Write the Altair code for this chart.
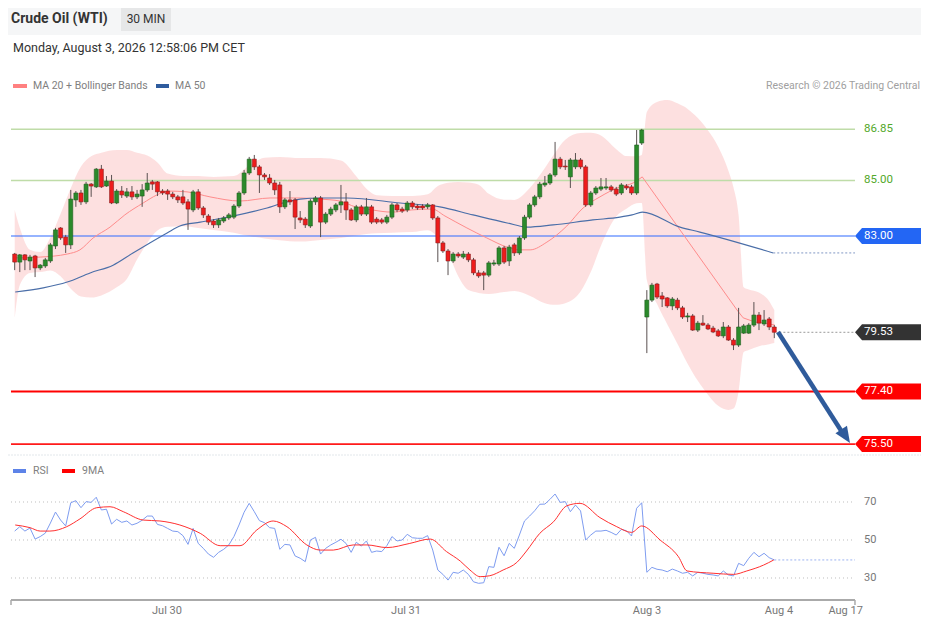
import altair as alt
import pandas as pd

# ---------------- data ----------------
opens = [82.35, 82.06, 82.32, 82.10, 82.28, 81.85, 81.92, 82.10, 82.64, 83.29,
         82.96, 82.68, 84.30, 84.55, 84.23, 84.87, 84.77, 85.41, 84.80, 84.98,
         84.19, 84.62, 84.44, 84.59, 84.41, 84.44, 84.66, 84.95, 84.95, 84.62,
         84.62, 84.51, 84.41, 84.41, 84.23, 83.94, 84.59, 84.01, 83.72, 83.54,
         83.40, 83.54, 83.65, 83.68, 84.08, 84.55, 85.27, 85.77, 85.49, 85.20,
         85.09, 84.91, 84.84, 84.05, 84.30, 84.30, 83.65, 83.61, 83.36, 84.23,
         84.37, 83.50, 83.79, 83.94, 84.12, 84.23, 83.94, 83.58, 84.05, 83.79,
         84.05, 83.61, 83.58, 83.50, 83.68, 84.12, 83.97, 83.94, 84.19, 84.08,
         84.08, 84.05, 84.12, 83.65, 82.75, 82.46, 82.10, 82.35, 82.24, 82.35,
         82.14, 81.67, 81.67, 81.59, 81.99, 81.99, 82.57, 82.10, 82.68, 82.39,
         82.93, 83.68, 84.12, 84.41, 84.84, 84.91, 85.20, 85.77, 85.52, 85.13,
         85.49, 85.74, 85.49, 84.12, 84.55, 84.69, 84.73, 84.77, 84.69, 84.55,
         84.80, 84.77, 84.55, 86.35, 80.08, 80.69, 81.27, 80.84, 80.77, 80.48,
         80.69, 80.41, 80.08, 80.12, 79.61, 79.86, 79.79, 79.68, 79.58, 79.40,
         79.72, 79.25, 79.07, 79.50, 79.50, 79.79, 80.15, 79.83, 80.01, 79.72]
closes = [82.06, 82.32, 82.14, 82.24, 81.85, 81.95, 82.14, 82.68, 83.22, 82.93,
          82.68, 84.33, 84.55, 84.23, 84.87, 84.80, 85.41, 84.77, 84.98, 84.19,
          84.62, 84.48, 84.59, 84.41, 84.51, 84.66, 84.91, 84.87, 84.59, 84.55,
          84.51, 84.41, 84.30, 84.19, 83.97, 84.59, 84.01, 83.76, 83.50, 83.40,
          83.58, 83.65, 83.76, 84.08, 84.55, 85.27, 85.77, 85.49, 85.20, 85.13,
          84.91, 84.66, 84.05, 84.30, 84.23, 83.68, 83.58, 83.40, 84.26, 84.37,
          83.50, 83.79, 83.97, 84.12, 84.23, 83.94, 83.58, 84.05, 83.79, 84.05,
          83.50, 83.50, 83.50, 83.68, 84.12, 83.94, 83.90, 84.19, 84.05, 84.01,
          84.01, 84.12, 83.65, 82.75, 82.46, 82.10, 82.35, 82.28, 82.35, 82.14,
          81.67, 81.56, 81.59, 82.03, 82.03, 82.57, 82.06, 82.60, 82.39, 82.93,
          83.68, 84.12, 84.41, 84.87, 84.91, 85.20, 85.77, 85.49, 85.49, 85.74,
          85.74, 85.49, 84.12, 84.55, 84.73, 84.77, 84.77, 84.66, 84.51, 84.84,
          84.73, 84.55, 86.28, 86.82, 80.69, 81.23, 80.80, 80.73, 80.48, 80.73,
          80.41, 80.08, 80.12, 79.61, 79.86, 79.79, 79.65, 79.54, 79.40, 79.72,
          79.25, 79.07, 79.72, 79.76, 79.79, 80.15, 79.86, 79.97, 79.72, 79.53]
highs = [82.39, 82.35, 82.35, 82.32, 82.32, 81.99, 82.21, 82.75, 83.29, 83.32,
         83.04, 84.66, 84.62, 84.66, 84.95, 84.91, 85.45, 85.56, 85.16, 85.20,
         84.69, 84.80, 84.73, 84.80, 84.66, 84.87, 85.27, 85.02, 84.98, 84.69,
         84.69, 84.59, 84.48, 84.66, 84.33, 84.66, 84.69, 84.08, 83.79, 83.61,
         83.65, 83.72, 83.83, 84.15, 84.62, 85.38, 85.85, 85.92, 85.56, 85.27,
         85.23, 85.02, 84.95, 84.37, 84.62, 84.37, 83.90, 83.68, 84.33, 84.44,
         84.44, 83.86, 84.05, 84.19, 84.84, 84.55, 84.01, 84.12, 84.12, 84.37,
         84.12, 83.68, 83.65, 83.76, 84.19, 84.19, 84.05, 84.26, 84.26, 84.15,
         84.15, 84.19, 84.15, 83.72, 82.82, 82.53, 82.42, 82.42, 82.46, 82.42,
         82.21, 81.77, 81.74, 82.10, 82.14, 82.64, 82.64, 82.68, 82.75, 83.00,
         83.76, 84.19, 84.48, 84.95, 85.16, 85.27, 86.39, 85.85, 85.74, 85.81,
         85.99, 85.81, 85.56, 84.62, 84.80, 85.09, 85.09, 84.84, 84.77, 84.91,
         84.87, 84.84, 86.82, 86.86, 81.05, 81.31, 81.31, 80.98, 80.80, 80.80,
         80.77, 80.48, 80.23, 80.19, 79.94, 80.15, 79.86, 79.76, 79.65, 79.90,
         79.79, 79.32, 80.41, 79.83, 79.86, 80.62, 80.26, 80.33, 80.08, 79.79]
lows = [81.77, 81.70, 81.77, 81.77, 81.52, 81.77, 81.85, 82.03, 82.53, 82.86,
        82.39, 82.53, 84.05, 84.12, 84.15, 84.41, 84.73, 84.73, 84.77, 84.15,
        84.15, 84.37, 84.37, 84.30, 84.33, 84.05, 84.59, 84.66, 84.44, 84.48,
        84.30, 84.33, 84.19, 84.12, 83.22, 83.86, 83.94, 83.65, 83.40, 83.29,
        83.29, 83.47, 83.58, 83.61, 84.01, 84.48, 85.20, 85.38, 84.55, 85.02,
        84.84, 84.48, 83.83, 83.97, 84.12, 83.25, 83.47, 83.29, 83.29, 84.12,
        82.96, 83.43, 83.72, 83.86, 83.83, 83.58, 83.54, 83.50, 83.72, 83.72,
        83.43, 83.43, 83.43, 83.43, 83.61, 83.86, 83.83, 83.86, 83.97, 83.94,
        83.94, 83.97, 83.58, 82.06, 82.39, 81.59, 82.03, 82.21, 82.17, 82.06,
        81.59, 81.49, 81.05, 81.52, 81.92, 81.92, 81.99, 81.92, 82.28, 82.32,
        82.86, 83.61, 84.05, 84.33, 84.77, 84.84, 85.13, 85.41, 85.38, 84.73,
        85.41, 85.41, 84.05, 84.05, 84.48, 84.62, 84.66, 84.59, 84.44, 84.48,
        84.66, 84.48, 84.48, 86.28, 78.78, 80.62, 80.73, 80.44, 80.41, 80.33,
        80.33, 80.01, 79.90, 79.58, 79.54, 79.76, 79.61, 79.50, 79.36, 79.32,
        79.22, 78.89, 79.00, 79.47, 79.47, 79.72, 79.61, 79.76, 79.61, 79.32]

band_idx = [0, 1, 3, 5, 7, 9, 11, 13, 15, 17, 20, 22, 24, 26, 28, 30, 33, 36, 39, 43,
            46, 49, 52, 56, 60, 64, 67, 69, 71, 74, 78, 81, 83, 85, 87, 89, 91, 93, 96, 98,
            101, 104, 106, 108, 111, 113, 115, 118, 120, 122, 123, 124, 126, 128, 130, 132,
            134, 136, 138, 140, 141, 142, 143, 144, 146, 148, 149]
band_upper = [83.94, 83.30, 82.50, 82.42, 82.95, 83.80, 84.72, 85.50, 85.87, 86.00,
              86.10, 86.10, 86.00, 85.90, 85.65, 85.25, 85.16, 85.16, 85.13, 85.16,
              85.54, 85.82, 85.85, 85.81, 85.81, 85.72, 85.15, 84.70, 84.47, 84.44,
              84.44, 84.50, 84.80, 84.92, 84.95, 84.93, 84.85, 84.52, 84.31, 84.30,
              84.72, 85.45, 86.00, 86.47, 86.71, 86.72, 86.62, 86.13, 85.88, 85.87,
              85.92, 87.47, 87.83, 87.90, 87.78, 87.58, 87.25, 86.80, 86.22, 85.35,
              84.75, 83.75, 81.15, 81.07, 80.96, 80.65, 80.33]
band_lower = [80.05, 81.23, 81.67, 81.70, 81.76, 81.55, 81.10, 80.82, 80.78, 80.86,
              81.15, 81.45, 82.15, 82.75, 83.20, 83.33, 83.35, 83.29, 83.22, 83.12,
              83.00, 82.91, 82.85, 82.80, 82.86, 82.93, 83.02, 83.07, 83.10, 83.12,
              83.14, 83.21, 82.95, 82.40, 81.55, 81.05, 80.95, 80.91, 80.98, 81.02,
              80.85, 80.58, 80.52, 80.58, 81.00, 81.70, 82.65, 83.70, 83.98, 84.18,
              84.19, 81.41, 80.55, 79.82, 79.12, 78.40, 77.78, 77.28, 76.88, 76.73,
              76.78, 77.40, 78.82, 78.89, 79.03, 79.10, 79.14]

ma20_idx = [0.1, 5.0, 10.3, 12.8, 15.4, 18.7, 21.6, 25.2, 27.9, 29.9, 33.8, 38.3, 44.2,
            50.1, 56.0, 59.9, 63.8, 66.8, 70.1, 74.0, 77.9, 81.9, 84.4, 88.7, 92.6, 96.6,
            99.1, 101.1, 104.4, 108.3, 111.5, 114.8, 118.7, 121.3, 123.1, 141.7, 142.9,
            145.2, 147.2, 149.1]
ma20_val = [82.21, 82.24, 82.35, 82.50, 82.93, 83.32, 83.76, 84.19, 84.48, 84.62,
            84.59, 84.41, 84.26, 84.37, 84.37, 84.33, 84.26, 84.05, 83.94, 83.86,
            83.94, 83.97, 83.72, 83.29, 82.93, 82.60, 82.50, 82.50, 82.78, 83.36,
            84.01, 84.41, 84.77, 84.91, 85.13, 80.33, 80.05, 79.90, 79.86, 79.79]

ma50_idx = [0.1, 5.6, 10.3, 14.8, 19.3, 23.2, 26.5, 29.9, 32.4, 36.4, 42.8, 49.5, 52.6,
            56.0, 59.9, 65.2, 75.6, 83.4, 89.9, 96.6, 100.5, 105.6, 113.4, 118.7, 121.1,
            123.1, 130.5, 134.4, 148.8]
ma50_val = [80.98, 81.13, 81.34, 81.67, 81.95, 82.39, 82.75, 83.11, 83.36, 83.50,
            83.72, 84.01, 84.19, 84.33, 84.37, 84.37, 84.19, 84.05, 83.76, 83.47,
            83.32, 83.40, 83.58, 83.68, 83.76, 83.86, 83.32, 83.14, 82.39]

rsi_vals = [54.7, 57, 54.7, 56.3, 50.5, 51.8, 53.6, 58.9, 64.7, 60.5,
            57.4, 69.6, 70.7, 67, 70.2, 69.8, 72.5, 65.8, 66.2, 58.4,
            60.9, 59.3, 60, 57.9, 58.8, 60.4, 62.6, 62.6, 58.2, 57.5,
            56.1, 54.7, 54.4, 52.3, 47.7, 56.1, 48.2, 45.6, 42.6, 40.9,
            43.5, 45.1, 47.4, 51.8, 57.9, 64.6, 69.3, 64.9, 60.2, 59.1,
            56.5, 56.1, 45.1, 47.7, 47.4, 41.6, 40.4, 38.6, 50, 51.4,
            42.6, 45.6, 47.4, 48.8, 50.4, 48.2, 43.5, 48.8, 46.8, 49.5,
            43.5, 44.2, 43.9, 47, 51.8, 49.5, 50, 53, 51.2, 50.9,
            50.9, 52.3, 44.7, 34.2, 31.9, 28.9, 33, 32.5, 34.2, 31.9,
            28, 27.2, 27.5, 36, 35.6, 46.2, 41.7, 48.2, 45.6, 52.6,
            60, 62.6, 65.4, 68.8, 68.9, 71.4, 74.2, 69.8, 70.2, 64.9,
            68.4, 65.3, 50, 52.6, 54.7, 54.7, 55.1, 54, 52.6, 55.6,
            54.9, 52.1, 66.7, 69.6, 33, 35.6, 34.6, 34.2, 33.3, 34.7,
            33.7, 32.5, 33, 31.1, 33, 32.5, 31.9, 31.6, 31.1, 33.7,
            31.6, 31.1, 37.7, 36.5, 40.4, 43.5, 41.2, 43, 40.7, 39.5]

rsi9_idx = [0.1, 3.0, 5.0, 6.9, 10.2, 12.8, 16.1, 18.7, 21.3, 25.2, 28.5, 32.4, 36.4,
            40.3, 44.2, 47.5, 50.7, 53.4, 57.3, 59.9, 62.5, 66.4, 69.1, 73.0, 77.5, 81.5,
            84.7, 87.4, 89.3, 91.3, 93.2, 95.8, 98.5, 100.4, 103.0, 105.7, 108.3, 110.9,
            114.8, 118.1, 121.0, 123.0, 126.6, 130.2, 131.9, 137.0, 141.0, 143.6, 146.9, 148.9]
rsi9_val = [57.9, 56.5, 54.7, 54.7, 57.0, 61.1, 67.0, 67.5, 64.9, 60.5, 60.0, 57.9, 53.5,
            47.0, 47.0, 55.3, 60.0, 57.0, 47.4, 44.7, 44.7, 47.4, 47.4, 46.0, 48.2, 50.5,
            43.9, 38.9, 34.2, 30.7, 31.2, 34.2, 38.2, 44.2, 53.5, 59.6, 68.0, 69.3, 61.8,
            57.0, 54.0, 57.4, 50.0, 41.2, 33.7, 32.5, 31.9, 33.7, 36.8, 39.5]

level_vals = [86.85, 85.00, 83.00, 77.40, 75.50]
last_price = 79.53
rsi_levels = [70, 50, 30]
tick_pos = [29.87, 76.76, 124.03, 149.92, 163.0]
tick_labels = ["Jul 30", "Jul 31", "Aug 3", "Aug 4", "Aug 17"]

# ---------------- geometry / styles ----------------
W, H = 913, 613
X0, X1 = -0.726, 164.83          # plot span (index units)
XS = alt.Scale(domain=[-1.314, 177.78], nice=False, zero=False, padding=0)
YP = alt.Scale(domain=[69.126, 91.216], nice=False, zero=False, padding=0)
YR = alt.Scale(domain=[7.368, 330.0], nice=False, zero=False, padding=0)
FONT = "Roboto"
LBL_X = 166.6
TAG_X = 171.7
TAG = "M-1,0L-0.8,-0.2286L1,-0.2286L1,0.2286L-0.8,0.2286Z"


def xq(f):
    return alt.X(f"{f}:Q", scale=XS, axis=None)


def yp(f):
    return alt.Y(f"{f}:Q", scale=YP, axis=None)


def yr(f):
    return alt.Y(f"{f}:Q", scale=YR, axis=None)


GREEN, RED = "#2b8a2b", "#ee1c1c"
cdf = pd.DataFrame({"i": list(range(len(opens))), "o": opens, "h": highs,
                    "l": lows, "c": closes})
cdf["fill"] = [GREEN if c >= o else RED for o, c in zip(opens, closes)]
cdf["stk"] = ["#1f5f1f" if c >= o else "#8a1f1f" for o, c in zip(opens, closes)]

band_df = pd.DataFrame({"i": band_idx, "up": band_upper, "lo": band_lower})
ma20_df = pd.DataFrame({"i": ma20_idx, "v": ma20_val})
ma50_df = pd.DataFrame({"i": ma50_idx, "v": ma50_val})
rsi_df = pd.DataFrame({"i": list(range(len(rsi_vals))), "v": rsi_vals})
rsi9_df = pd.DataFrame({"i": rsi9_idx, "v": rsi9_val})

lv_df = pd.DataFrame({"p": level_vals,
                      "col": ["#bfdca8", "#bfdca8", "#2f6bff", "#ff0000", "#ff1a1a"],
                      "w": [1.5, 1.5, 1.2, 2, 1.6]})
lv_df["x0"], lv_df["x1"] = X0, X1

one = pd.DataFrame({"k": [0]})

layers = []

# Bollinger band
layers.append(alt.Chart(band_df).mark_area(color="#fddede", opacity=0.95,
                                           interpolate="monotone")
              .encode(x=xq("i"), y=yp("up"), y2=alt.Y2("lo:Q")))

# level lines
layers.append(alt.Chart(lv_df).mark_rule()
              .encode(x=xq("x0"), x2=alt.X2("x1:Q"), y=yp("p"),
                      color=alt.Color("col:N", scale=None),
                      strokeWidth=alt.StrokeWidth("w:Q", scale=None)))

# MA 20 (smooth before the Aug 3 gap, straight across it) and MA 50
layers.append(alt.Chart(ma20_df).mark_line(color="#ff8c8c", strokeWidth=1,
                                           interpolate="monotone")
              .encode(x=xq("i"), y=yp("v")).transform_filter("datum.i <= 123.2"))
layers.append(alt.Chart(ma20_df).mark_line(color="#ff8c8c", strokeWidth=1)
              .encode(x=xq("i"), y=yp("v")).transform_filter("datum.i >= 123"))
layers.append(alt.Chart(ma50_df).mark_line(color="#4a6ea8", strokeWidth=1.1,
                                           interpolate="monotone")
              .encode(x=xq("i"), y=yp("v")))

# dotted extensions (price)
ext_df = pd.DataFrame({"x0": [ma50_idx[-1], 150.0], "x1": [X1, X1],
                       "p": [ma50_val[-1], last_price],
                       "col": ["#8097c4", "#9a9a9a"]})
layers.append(alt.Chart(ext_df).mark_rule(strokeDash=[2, 2], strokeWidth=1)
              .encode(x=xq("x0"), x2=alt.X2("x1:Q"), y=yp("p"),
                      color=alt.Color("col:N", scale=None)))

# candles
layers.append(alt.Chart(cdf).mark_rule(color="#5a5050", strokeWidth=1)
              .encode(x=xq("i"), y=yp("l"), y2=alt.Y2("h:Q")))
layers.append(alt.Chart(cdf).mark_bar(size=4, strokeWidth=0.6)
              .encode(x=xq("i"), y=yp("o"), y2=alt.Y2("c:Q"),
                      fill=alt.Fill("fill:N", scale=None),
                      stroke=alt.Stroke("stk:N", scale=None)))

# forecast arrow
arrow_df = pd.DataFrame({"i": [149.73, 162.12], "p": [79.54, 75.98]})
layers.append(alt.Chart(arrow_df).mark_line(color="#2f5b9b", strokeWidth=4.5,
                                            strokeCap="butt")
              .encode(x=xq("i"), y=yp("p")))
head_df = pd.DataFrame({"i": [162.99], "p": [75.78]})
layers.append(alt.Chart(head_df).mark_point(shape="M1,0L-1,-0.85L-1,0.85Z", size=260,
                                            angle=57, filled=True, opacity=1,
                                            color="#2f5b9b", strokeWidth=0)
              .encode(x=xq("i"), y=yp("p")))

# right-side tags
tag_df = pd.DataFrame({"p": [level_vals[2], last_price, level_vals[3], level_vals[4]],
                       "col": ["#2366f4", "#333333", "#ff0000", "#ff0000"]})
tag_df["lbl"] = [f"{v:.2f}" for v in tag_df["p"]]
tag_df["x"] = TAG_X
tag_df["tx"] = LBL_X
layers.append(alt.Chart(tag_df).mark_point(shape=TAG, size=4900, filled=True,
                                           opacity=1, strokeWidth=0)
              .encode(x=xq("x"), y=yp("p"), color=alt.Color("col:N", scale=None)))
layers.append(alt.Chart(tag_df).mark_text(align="left", baseline="middle", color="white",
                                          font=FONT, fontSize=11.5)
              .encode(x=xq("tx"), y=yp("p"), text="lbl:N"))
gl_df = pd.DataFrame({"p": level_vals[:2]})
gl_df["lbl"] = [f"{v:.2f}" for v in gl_df["p"]]
gl_df["tx"] = LBL_X
layers.append(alt.Chart(gl_df).mark_text(align="left", baseline="middle",
                                         color="#52a82a", font=FONT, fontSize=11.5)
              .encode(x=xq("tx"), y=yp("p"), text="lbl:N"))

# ---------------- RSI panel ----------------
rg_df = pd.DataFrame({"r": rsi_levels})
rg_df["x0"], rg_df["x1"], rg_df["tx"] = X0, X1, LBL_X
rg_df["lbl"] = [str(v) for v in rsi_levels]
layers.append(alt.Chart(rg_df).mark_rule(color="#bdbdbd", strokeDash=[1, 3], strokeWidth=1)
              .encode(x=xq("x0"), x2=alt.X2("x1:Q"), y=yr("r")))
layers.append(alt.Chart(rg_df).mark_text(align="left", baseline="middle", color="#777777",
                                         font=FONT, fontSize=11)
              .encode(x=xq("tx"), y=yr("r"), text="lbl:N"))
rext_df = pd.DataFrame({"x0": [rsi_df["i"].iloc[-1]], "x1": [X1], "r": [rsi_vals[-1]]})
layers.append(alt.Chart(rext_df).mark_rule(color="#9bb2f0", strokeDash=[2, 2], strokeWidth=1)
              .encode(x=xq("x0"), x2=alt.X2("x1:Q"), y=yr("r")))
layers.append(alt.Chart(rsi_df).mark_line(color="#7e9cf0", strokeWidth=1)
              .encode(x=xq("i"), y=yr("v")))
layers.append(alt.Chart(rsi9_df).mark_line(color="#ff3030", strokeWidth=1,
                                           interpolate="monotone")
              .encode(x=xq("i"), y=yr("v")))

# x axis
ax_df = pd.DataFrame({"x0": [X0], "x1": [X1]})
layers.append(alt.Chart(ax_df).mark_rule(color="#aaaaaa", strokeWidth=2)
              .encode(x=xq("x0"), x2=alt.X2("x1:Q"), y=alt.value(592)))
tk_df = pd.DataFrame({"x": [X0, X1]})
layers.append(alt.Chart(tk_df).mark_rule(color="#aaaaaa", strokeWidth=1.5)
              .encode(x=xq("x"), y=alt.value(592), y2=alt.value(597)))
tl_df = pd.DataFrame({"x": tick_pos, "t": tick_labels})
layers.append(alt.Chart(tl_df).mark_text(align="center", baseline="middle", color="#777777",
                                         font=FONT, fontSize=11)
              .encode(x=xq("x"), y=alt.value(603), text="t:N"))

# ---------------- header & legends ----------------
def rect(x, x2, y, y2, color):
    return alt.Chart(one).mark_rect(color=color).encode(
        x=alt.value(x), x2=alt.value(x2), y=alt.value(y), y2=alt.value(y2))


def label(txt, x, y, size, color, align="left", weight="normal"):
    return alt.Chart(one).mark_text(text=txt, align=align, baseline="middle", font=FONT,
                                    fontSize=size, color=color, fontWeight=weight).encode(
        x=alt.value(x), y=alt.value(y))


hdr = [
    rect(0, W, 0, 27, "#f5f6f7"),
    rect(113, 163, 0, 23, "#e6e7e8"),
    label("Crude Oil (WTI)", 3, 11, 14, "#333333", weight="bold"),
    label("30 MIN", 138, 11, 12, "#333333", align="center"),
    label("Monday, August 3, 2026 12:58:06 PM CET", 5, 40, 12.5, "#333333"),
    rect(5, 19, 76, 80, "#ff8080"),
    label("MA 20 + Bollinger Bands", 25, 78, 10.5, "#808080"),
    rect(148, 161, 76, 80, "#2f5c9e"),
    label("MA 50", 167, 78, 10.5, "#808080"),
    label("Research \u00a9 2026 Trading Central", 912, 78, 10.5, "#a0a0a0", align="right"),
    alt.Chart(one).mark_rule(color="#e2e7eb", strokeDash=[2, 1], strokeWidth=1).encode(
        x=alt.value(0), x2=alt.value(W), y=alt.value(447)),
    rect(5, 18, 461, 465, "#5d83e8"),
    label("RSI", 25, 463, 10.5, "#808080"),
    rect(54, 67, 461, 465, "#ff0000"),
    label("9MA", 74, 463, 10.5, "#808080"),
]

chart = (alt.layer(*(hdr + layers))
         .resolve_scale(y="independent")
         .properties(width=W, height=H, padding=0,
                     autosize=alt.AutoSizeParams(type="none"), background="white")
         .configure_view(strokeWidth=0))

chart.save("out.html", embed_options={"renderer": "svg", "actions": False})
